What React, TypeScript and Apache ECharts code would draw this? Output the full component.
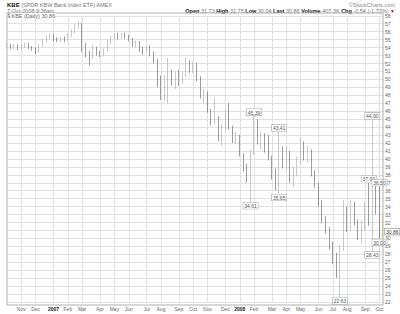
import React, { useEffect, useRef } from 'react';
import * as echarts from 'echarts';

const weeks = [
  '2006-10-02','2006-10-09','2006-10-16','2006-10-23','2006-10-30','2006-11-06','2006-11-13','2006-11-20','2006-11-27','2006-12-04','2006-12-11','2006-12-18','2006-12-25',
  '2007-01-01','2007-01-08','2007-01-15','2007-01-22','2007-01-29','2007-02-05','2007-02-12','2007-02-19','2007-02-26','2007-03-05','2007-03-12','2007-03-19','2007-03-26',
  '2007-04-02','2007-04-09','2007-04-16','2007-04-23','2007-04-30','2007-05-07','2007-05-14','2007-05-21','2007-05-28','2007-06-04','2007-06-11','2007-06-18','2007-06-25',
  '2007-07-02','2007-07-09','2007-07-16','2007-07-23','2007-07-30','2007-08-06','2007-08-13','2007-08-20','2007-08-27','2007-09-03','2007-09-10','2007-09-17','2007-09-24',
  '2007-10-01','2007-10-08','2007-10-15','2007-10-22','2007-10-29','2007-11-05','2007-11-12','2007-11-19','2007-11-26','2007-12-03','2007-12-10','2007-12-17','2007-12-24','2007-12-31',
  '2008-01-07','2008-01-14','2008-01-21','2008-01-28','2008-02-04','2008-02-11','2008-02-18','2008-02-25','2008-03-03','2008-03-10','2008-03-17','2008-03-24','2008-03-31',
  '2008-04-07','2008-04-14','2008-04-21','2008-04-28','2008-05-05','2008-05-12','2008-05-19','2008-05-26','2008-06-02','2008-06-09','2008-06-16','2008-06-23','2008-06-30',
  '2008-07-07','2008-07-14','2008-07-21','2008-07-28','2008-08-04','2008-08-11','2008-08-18','2008-08-25','2008-09-01','2008-09-08','2008-09-15','2008-09-22','2008-09-29','2008-10-06'
];

const opens = [
  54.2,54.4,54.1,54.3,53.9,54.2,54.4,54.0,53.8,53.5,54.3,54.9,55.3,
  55.6,55.1,55.0,55.2,54.9,55.6,56.0,56.7,57.0,54.0,53.2,52.8,54.0,
  53.3,53.2,53.7,54.8,55.2,55.5,55.3,55.7,55.4,55.0,54.4,54.7,53.8,
  53.6,54.0,53.2,52.3,49.6,48.2,49.5,50.6,49.8,50.6,49.6,50.5,52.2,
  51.3,51.9,50.2,48.1,48.3,46.0,44.6,45.2,42.6,44.0,46.0,44.0,42.4,42.8,
  40.6,38.8,37.4,40.8,44.8,42.2,42.8,41.6,40.2,37.8,37.2,40.8,39.4,
  40.9,37.4,38.6,39.8,41.8,40.2,41.0,38.2,36.8,34.4,32.4,31.0,29.0,
  27.4,25.6,28.6,33.6,31.2,34.2,32.0,30.4,31.8,32.6,32.2,37.0,34.0,33.0
];
const closes = [
  54.4,54.1,54.3,53.9,54.2,54.4,54.0,53.8,53.5,54.3,54.9,55.3,55.6,
  55.1,55.0,55.2,54.9,55.6,56.0,56.7,57.0,54.0,53.2,52.8,54.0,53.3,
  53.2,53.7,54.8,55.2,55.5,55.3,55.7,55.4,55.0,54.4,54.7,53.8,53.6,
  54.0,53.2,52.3,49.6,48.2,49.5,50.6,49.8,50.6,49.6,50.5,52.2,51.3,
  51.9,50.2,48.1,48.3,46.0,44.6,45.2,42.6,44.0,46.0,44.0,42.4,42.8,40.6,
  38.8,37.4,40.8,44.8,42.2,42.8,41.6,40.2,37.8,37.2,40.8,39.4,40.9,
  37.4,38.6,39.8,41.8,40.2,41.0,38.2,36.8,34.4,32.4,31.0,29.0,27.4,
  25.6,28.6,33.6,31.2,34.2,32.0,30.4,31.8,32.6,32.2,37.0,34.0,33.0,30.86
];
const lows = [
  53.9,53.8,53.8,53.7,53.6,53.9,53.8,53.6,53.2,53.4,54.1,54.6,55.0,
  54.8,54.7,54.8,54.7,54.8,55.3,55.8,56.4,53.4,52.8,51.7,52.6,53.0,
  52.8,52.9,53.5,54.4,55.0,55.0,55.1,55.1,54.8,54.1,54.0,53.5,53.1,
  53.4,52.9,52.0,49.0,47.4,47.3,47.0,49.2,48.8,49.2,49.4,50.3,50.8,
  50.8,49.8,47.6,47.0,45.8,44.2,44.3,42.2,41.7,43.6,43.7,42.0,41.9,40.3,
  38.4,37.0,34.61,40.5,41.8,41.2,40.8,39.8,37.4,36.0,35.65,38.8,38.6,
  37.0,36.5,37.8,39.4,39.8,39.6,37.8,36.4,34.0,31.9,30.6,28.6,26.8,
  25.0,22.63,28.4,30.8,30.9,31.6,29.8,29.4,31.0,31.6,28.43,33.0,30.0,30.04
];
const highs = [
  54.6,54.5,54.5,54.4,54.3,54.6,54.6,54.2,54.0,54.5,55.1,55.5,55.8,
  55.7,55.3,55.4,55.4,55.8,56.3,56.9,57.3,57.1,54.6,53.6,54.3,54.1,
  53.6,53.9,55.0,55.5,55.8,55.9,55.9,55.9,55.6,55.2,54.9,54.8,54.1,
  54.2,54.3,53.5,52.6,50.5,50.5,52.7,51.2,51.0,51.2,51.0,52.7,52.4,
  52.2,52.1,50.4,48.8,48.5,46.3,47.6,45.4,44.4,46.3,47.0,44.2,43.4,43.0,
  40.7,39.4,41.2,45.39,45.0,43.4,43.2,43.0,40.4,38.8,43.41,41.6,41.6,
  41.0,39.0,40.3,42.6,42.2,41.6,41.2,38.6,37.0,34.8,32.8,31.4,29.6,
  28.2,29.2,34.8,34.0,34.8,34.6,32.4,32.2,34.6,37.0,44.9,37.6,36.5,33.2
];

const monthTicks: Record<string, string> = {
  '2006-10-30': 'Nov', '2006-11-27': 'Dec', '2007-01-01': '2007', '2007-01-29': 'Feb',
  '2007-02-26': 'Mar', '2007-04-02': 'Apr', '2007-04-30': 'May', '2007-05-28': 'Jun',
  '2007-07-02': 'Jul', '2007-07-30': 'Aug', '2007-09-03': 'Sep', '2007-10-01': 'Oct',
  '2007-10-29': 'Nov', '2007-12-03': 'Dec', '2007-12-31': '2008', '2008-01-28': 'Feb',
  '2008-03-03': 'Mar', '2008-03-31': 'Apr', '2008-04-28': 'May', '2008-06-02': 'Jun',
  '2008-06-30': 'Jul', '2008-07-28': 'Aug', '2008-09-01': 'Sep', '2008-09-29': 'Oct'
};

const peakLabels = [
  { week: '2008-01-28', value: 45.39 },
  { week: '2008-03-17', value: 43.41 },
  { week: '2008-09-08', value: 37.0 },
  { week: '2008-09-15', value: 44.9 },
  { week: '2008-09-29', value: 36.5 }
];
const troughLabels = [
  { week: '2008-01-21', value: 34.61 },
  { week: '2008-03-17', value: 35.65 },
  { week: '2008-07-14', value: 22.63 },
  { week: '2008-09-15', value: 28.43 },
  { week: '2008-09-29', value: 30.0 }
];
const lastPrice = 30.86;

const FONT = 'Liberation Sans';

export default function App() {
  const ref = useRef<HTMLDivElement>(null);
  useEffect(() => {
    document.body.style.margin = '0';
    const chart = echarts.init(ref.current!, undefined, { renderer: 'svg' });
    const boxLabel = {
      show: true,
      fontSize: 5,
      fontFamily: FONT,
      color: '#555',
      backgroundColor: '#fff',
      borderColor: '#aaa',
      borderWidth: 0.6,
      padding: [1, 1, 0, 1],
      formatter: (p: any) => Number(p.value).toFixed(2)
    };
    const n = weeks.length;
    const data = weeks.map((w, i) => {
      const v = [opens[i], closes[i], lows[i], highs[i]];
      if (i === n - 1) {
        return { value: v, itemStyle: { color: '#e8c400', color0: '#e8c400', borderColor: '#e8c400', borderColor0: '#e8c400' } };
      }
      return v;
    });
    chart.setOption({
      animation: false,
      textStyle: { fontFamily: FONT },
      grid: { left: 7, right: 17, top: 15.8, bottom: 12 },
      xAxis: {
        type: 'category',
        data: weeks,
        boundaryGap: false,
        axisLine: { show: false },
        axisTick: { show: false },
        axisLabel: {
          interval: (_i: number, v: string) => v in monthTicks,
          formatter: (v: string) => {
            const t = monthTicks[v];
            if (!t) return '';
            return /^\d{4}$/.test(t) ? `{y|${t}}` : t;
          },
          fontSize: 5,
          color: '#666',
          margin: 4,
          rich: { y: { fontSize: 5, fontWeight: 'bold', color: '#222' } }
        },
        splitLine: {
          show: true,
          interval: (_i: number, v: string) => v in monthTicks,
          lineStyle: { color: '#e2e2e2', width: 1 }
        }
      },
      yAxis: {
        type: 'value',
        position: 'right',
        min: 22,
        max: 58,
        interval: 1,
        axisLine: { show: false },
        axisTick: { show: false },
        axisLabel: {
          fontSize: 5, color: '#666', margin: 2,
          formatter: (v: number) => (Math.abs(v - lastPrice) < 0.5 ? '' : String(v))
        },
        splitLine: { lineStyle: { color: '#e2e2e2', width: 1 } }
      },
      series: [
        {
          type: 'candlestick',
          data,
          barWidth: 1.2,
          itemStyle: { color: '#a4a4a4', color0: '#5a5a5a', borderColor: '#a4a4a4', borderColor0: '#5a5a5a', borderWidth: 0.6 },
          markPoint: {
            symbol: 'circle',
            symbolSize: 0,
            silent: true,
            data: [
              ...peakLabels.map((p) => ({ coord: [p.week, p.value], value: p.value, label: { ...boxLabel, position: 'top', distance: 1 } })),
              ...troughLabels.map((p) => ({ coord: [p.week, p.value], value: p.value, label: { ...boxLabel, position: 'bottom', distance: 1 } })),
              { coord: [weeks[n - 1], lastPrice], value: lastPrice, label: { ...boxLabel, position: 'right', distance: 2, color: '#333', borderColor: '#888' } }
            ]
          }
        }
      ],
      graphic: [
        { type: 'rect', shape: { x: 7, y: 13, width: 376, height: 292 }, style: { fill: 'none', stroke: '#b0b0b0', lineWidth: 1 }, z: 10, silent: true },
        {
          type: 'text', x: 7, y: 5,
          style: {
            text: '{b|KBE} (SPDR KBW Bank Index ETF) AMEX',
            fontSize: 5.5, fontFamily: FONT, fill: '#777', verticalAlign: 'middle',
            rich: { b: { fontSize: 6, fontWeight: 'bold', fill: '#111', fontFamily: FONT } }
          }
        },
        {
          type: 'text', x: 7, y: 10.5,
          style: { text: '7-Oct-2008 9:36am', fontSize: 5.5, fontFamily: FONT, fill: '#777', verticalAlign: 'middle' }
        },
        {
          type: 'text', x: 395, y: 4.5,
          style: { text: '©StockCharts.com', fontSize: 5.5, fontFamily: FONT, fill: '#888', align: 'right', verticalAlign: 'middle' }
        },
        {
          type: 'text', x: 395, y: 10.5,
          style: {
            text: '{b|Open} 31.73 {b|High} 31.75 {b|Low} 30.04 {b|Last} 30.86 {b|Volume} 407.3K {b|Chg} -0.54 (-1.72%) {r|▼}',
            fontSize: 5.5, fontFamily: FONT, fill: '#777', align: 'right', verticalAlign: 'middle',
            rich: {
              b: { fontSize: 5.5, fontWeight: 'bold', fill: '#111', fontFamily: FONT },
              r: { fontSize: 5, fill: '#c00', fontFamily: FONT }
            }
          }
        },
        { type: 'line', shape: { x1: 9, y1: 13.5, x2: 9, y2: 18 }, style: { stroke: '#777', lineWidth: 0.8 }, z: 11 },
        { type: 'line', shape: { x1: 8, y1: 14.5, x2: 9, y2: 14.5 }, style: { stroke: '#777', lineWidth: 0.8 }, z: 11 },
        { type: 'line', shape: { x1: 9, y1: 17, x2: 10, y2: 17 }, style: { stroke: '#777', lineWidth: 0.8 }, z: 11 },
        {
          type: 'text', x: 11.5, y: 16, z: 11,
          style: { text: 'KBE (Daily) 30.86', fontSize: 5.5, fontFamily: FONT, fill: '#666', verticalAlign: 'middle', backgroundColor: '#fff' }
        }
      ]
    });
    return () => chart.dispose();
  }, []);
  return <div ref={ref} style={{ width: 400, height: 314 }} />;
}
